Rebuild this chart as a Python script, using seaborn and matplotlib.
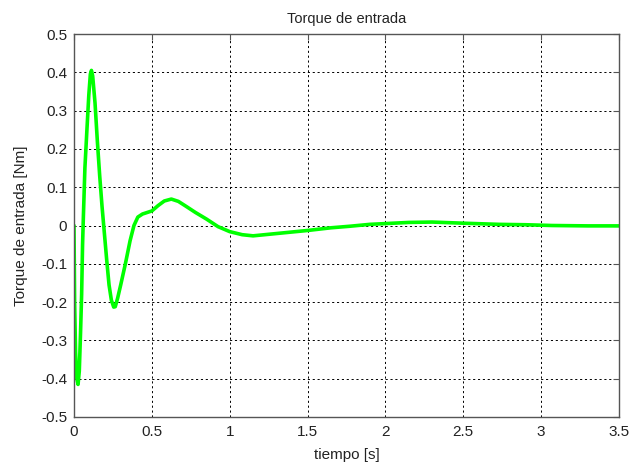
import matplotlib
matplotlib.use("Agg")
import matplotlib.pyplot as plt
import seaborn as sns
import pandas as pd

# Input torque response over time
tiempo = [0.000, 0.004, 0.010, 0.018, 0.026, 0.034, 0.042, 0.049, 0.055, 0.060,
          0.070, 0.083, 0.095, 0.105, 0.112, 0.120, 0.135, 0.150, 0.165, 0.180,
          0.195, 0.210, 0.225, 0.240, 0.255, 0.265, 0.280, 0.300, 0.330, 0.360,
          0.385, 0.410, 0.440, 0.470, 0.500, 0.540, 0.580, 0.625, 0.670, 0.720,
          0.780, 0.850, 0.925, 1.000, 1.080, 1.150, 1.250, 1.400, 1.500, 1.650,
          1.770, 1.900, 2.000, 2.150, 2.300, 2.500, 2.730, 2.900, 3.070, 3.300,
          3.500]
torque = [0.000, -0.200, -0.330, -0.400, -0.415, -0.380, -0.280, -0.180, -0.050, 0.020,
          0.150, 0.250, 0.340, 0.395, 0.405, 0.390, 0.320, 0.220, 0.130, 0.050,
          -0.020, -0.090, -0.155, -0.195, -0.213, -0.212, -0.190, -0.155, -0.100, -0.040,
          0.000, 0.022, 0.030, 0.034, 0.038, 0.052, 0.064, 0.069, 0.063, 0.050,
          0.034, 0.017, -0.003, -0.016, -0.024, -0.027, -0.023, -0.017, -0.013, -0.006,
          -0.002, 0.003, 0.005, 0.008, 0.009, 0.006, 0.003, 0.002, 0.000, -0.001,
          -0.001]

x_ticks = [0, 0.5, 1, 1.5, 2, 2.5, 3, 3.5]
y_ticks = [-0.5, -0.4, -0.3, -0.2, -0.1, 0, 0.1, 0.2, 0.3, 0.4, 0.5]
x_labels = ["0", "0.5", "1", "1.5", "2", "2.5", "3", "3.5"]
y_labels = ["-0.5", "-0.4", "-0.3", "-0.2", "-0.1", "0", "0.1", "0.2", "0.3", "0.4", "0.5"]

df = pd.DataFrame({"tiempo": tiempo, "torque": torque})

sns.set_style("white")
plt.rcParams["font.family"] = ["Liberation Sans", "DejaVu Sans"]

fig = plt.figure(figsize=(6.33, 4.66), dpi=100)
ax = fig.add_axes([74 / 633, 49 / 466, 545 / 633, 383 / 466])

sns.lineplot(data=df, x="tiempo", y="torque", ax=ax, color="#00ff00",
             linewidth=2.6, sort=False, estimator=None)

ax.set_xlim(0, 3.5)
ax.set_ylim(-0.5, 0.5)
ax.set_xticks(x_ticks)
ax.set_xticklabels(x_labels)
ax.set_yticks(y_ticks)
ax.set_yticklabels(y_labels)

ax.grid(True, color="black", linestyle=(0, (2.2, 2.8)), linewidth=0.7)
ax.set_axisbelow(True)

for side in ax.spines.values():
    side.set_color("#555555")
    side.set_linewidth(1.0)

ax.tick_params(axis="both", direction="in", length=4, width=0.8, color="#555555",
               labelsize=11, top=True, right=True, labelcolor="#222222")
ax.tick_params(axis="x", pad=6)
ax.tick_params(axis="y", pad=5)

ax.set_xlabel("tiempo [s]", fontsize=11, color="#222222", labelpad=6)
ax.set_ylabel("Torque de entrada [Nm]", fontsize=11, color="#222222", labelpad=9)
ax.set_title("Torque de entrada", fontsize=10.5, color="#222222", pad=8)

fig.savefig("out.png", dpi=100)
